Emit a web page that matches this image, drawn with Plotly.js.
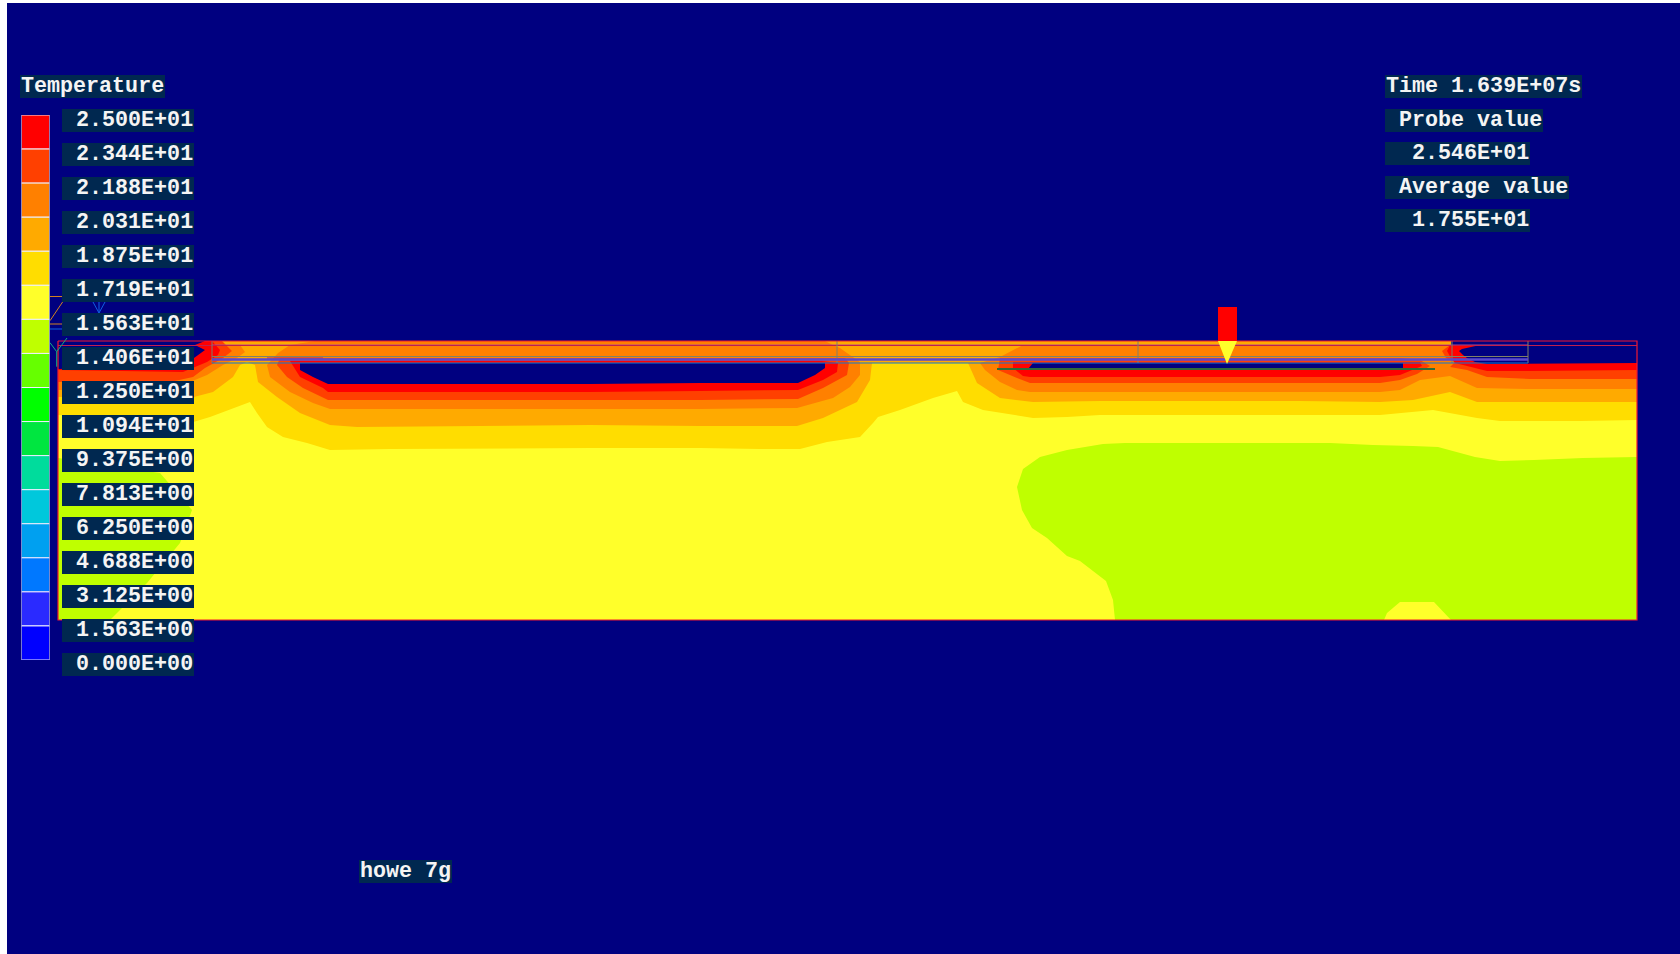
<!DOCTYPE html>
<html>
<head>
<meta charset="utf-8">
<script src="https://cdn.plot.ly/plotly-3.0.1.min.js"></script>
<style>html,body{margin:0;padding:0;background:#fff}#plot{width:1680px;height:954px}</style>
</head>
<body>
<div id="plot"></div>
<script>
// Colour scale, top to bottom
const scaleLabels = ["2.500E+01","2.344E+01","2.188E+01","2.031E+01","1.875E+01","1.719E+01","1.563E+01","1.406E+01","1.250E+01","1.094E+01","9.375E+00","7.813E+00","6.250E+00","4.688E+00","3.125E+00","1.563E+00","0.000E+00"];
const scaleColors = ["#FF0000","#FF4000","#FF8000","#FFAA00","#FFDD00","#FFFF2A","#BFFF00","#66FF00","#00FF00","#00E640","#00DC9C","#00C8DC","#00A0F0","#0078FF","#2A2AFF","#0000FF"];

// Model outline
const domainX = [58,1637,1637,58,58];
const domainY = [341,341,620,620,341];

// Contour regions (null separates pieces)
const limeX = [58,160,192,180,147,110,58,58,null,
  1637,1583,1534,1500,1475,1438,1413,1373,1330,1125,1103,1067,1040,1023,1017,1022,1032,1047,1067,1080,1106,1113,1115,1384,1387,1400,1434,1446,1451,1637,1637];
const limeY = [458,473,510,543,583,620,620,458,null,
  457,458,460,461,457,447,446,445,443,443,444,450,457,469,487,510,528,538,556,561,581,600,620,620,613,602,602,614,620,620,457];

const goldX = [58,190,210,233,250,257,267,283,307,330,390,590,700,760,800,827,860,873,878,900,933,957,963,983,1033,1067,1100,1380,1433,1477,1500,1580,1637,1637,58,58];
const goldY = [415,423,417,408,402,413,427,437,443,450,449,448,448,449,449,442,437,423,417,410,398,391,402,410,418,417,415,415,410,418,421,421,420,341,341,415];

const amberX = [58,150,190,213,233,240,247,255,258,277,300,330,357,590,700,797,823,857,870,872,968,977,1000,1033,1100,1300,1380,1413,1450,1477,1637,1637,58,58];
const amberY = [397,397,398,392,377,365,362,365,382,397,413,425,427,425,426,426,418,402,380,363,363,383,398,402,401,401,402,400,392,402,402,341,341,397];

const orangeX = [58,240,245,237,223,207,190,170,58,58,null,
  315,825,833,840,847,860,860,850,833,797,700,590,330,313,290,270,267,278,290,315,null,
  1023,1010,1000,980,985,1000,1017,1030,1110,1380,1400,1420,1450,1477,1530,1637,1637,1023];
const orangeY = [345,345,352,358,365,375,382,390,390,345,null,
  341,341,345,348,353,362,375,387,398,408,409,409,409,403,392,377,365,353,345,341,null,
  345,352,357,363,370,382,390,392,392,392,390,380,376,388,389,389,345,345];

const redOrangeX = [58,222,232,223,205,193,170,58,58,null,
  280,845,849,847,823,798,700,590,328,303,287,277,280,null,
  1000,998,1017,1030,1110,1380,1400,1417,1430,1420,1400,1000,null,
  1637,1450,1442,1446,1455,1450,1467,1487,1530,1637,1637];
const redOrangeY = [341,341,351,358,368,377,382,382,341,null,
  358,358,363,375,388,399,400,400,400,388,377,365,358,null,
  358,370,378,383,383,383,380,374,366,360,358,358,null,
  345,345,351,358,362,367,370,377,379,379,345];

const redX = [58,212,220,218,207,193,183,58,58,null,
  290,822,838,837,823,798,700,590,328,323,300,290,null,
  1013,1013,1023,1030,1110,1380,1400,1410,1422,1420,1013,null,
  1637,1450,1447,1451,1455,1467,1487,1530,1637,1637];
const redY = [341,341,350,355,362,368,372,370,341,null,
  361,361,363,372,380,390,391,392,392,388,377,361,null,
  362,368,376,377,377,377,375,371,366,362,362,null,
  345,345,351,358,363,366,371,371,370,345];

const navyX = [58,205,195,205,194,170,58,58,null,
  300,825,825,815,798,700,590,328,313,300,300,null,
  1033,1028,1403,1403,1033,null,
  1451,1637,1637,1487,1475,1467,1463,1459,1462,1480,1451,1451];
const navyY = [341,341,345,350,358,366,369,341,null,
  363,363,368,375,383,383,384,384,377,370,363,null,
  363,369,369,363,363,null,
  341,341,363,364,362,358,355,351,349,345,345,341];

// Probe marker
const probeBarX = [1218,1237,1237,1218,1218];
const probeBarY = [307,307,341,341,307];
const probeTipX = [1218,1237,1227,1218];
const probeTipY = [341,341,364,341];

// Wireframe lines of the geometry
const wireRedX = [58,1637,null,267,323];
const wireRedY = [345.5,345.5,null,358,358];
const wireMauveX = [212,1528];
const wireMauveY = [345,345];
const wireOliveX = [212,1528,null,212,212,null,837,837,null,1138,1138,null,1452,1452,null,1528,1528];
const wireOliveY = [356.5,356.5,null,341,363,null,341,363,null,341,363,null,341,363,null,341,363];
const wireLilacX = [212,1528];
const wireLilacY = [359.5,359.5];
const wireBlueX = [212,1528];
const wireBlueY = [363,363];
const wireGreenX = [997,1435];
const wireGreenY = [369,369];

// Axis triads beside the colour bar
const triadOrangeX = [50,62,null,50,62.6,null,50,62];
const triadOrangeY = [296.5,296.5,null,320.7,302,null,324,324];
const triadBlueX = [93,99,105,null,99,99,null,50,62];
const triadBlueY = [302,313,302,null,313,302,null,329,329];
const triadGreenX = [50,56.7,67,null,56.7,56.7];
const triadGreenY = [342.7,351.7,338,null,351.7,366.7];

const boxColor = "#002850";
const textColor = "#F4F4F4";
const fontFace = "Liberation Mono";
const lead = "\u00a0";

function region(x, y, color) {
  return {type:"scatter", mode:"lines", x:x, y:y, fill:"toself", fillcolor:color,
          line:{width:0, color:color}, hoverinfo:"skip", showlegend:false, connectgaps:false};
}
function wire(x, y, color, w) {
  return {type:"scatter", mode:"lines", x:x, y:y, line:{color:color, width:w},
          hoverinfo:"skip", showlegend:false};
}
function label(text, left, centerY, w) {
  const common = {xref:"x", yref:"y", xanchor:"left", yanchor:"middle", width:w, height:23,
                  align:"left", valign:"middle", showarrow:false, borderpad:0, borderwidth:0,
                  font:{family:fontFace, size:21.7, color:textColor, weight:700}};
  return [
    Object.assign({}, common, {text:lead, x:left, y:centerY, bgcolor:boxColor}),
    Object.assign({}, common, {text:text, x:left+1.4, y:centerY})
  ];
}

const traces = [
  region(domainX, domainY, scaleColors[5]),
  region(limeX, limeY, scaleColors[6]),
  region(goldX, goldY, scaleColors[4]),
  region(amberX, amberY, scaleColors[3]),
  region(orangeX, orangeY, scaleColors[2]),
  region(redOrangeX, redOrangeY, scaleColors[1]),
  region(redX, redY, scaleColors[0]),
  region(navyX, navyY, "#000080"),
  wire(wireMauveX, wireMauveY, "#B04A8A", 1),
  wire(wireRedX, wireRedY, "#C02050", 1),
  wire(wireOliveX, wireOliveY, "#808068", 1),
  wire(wireLilacX, wireLilacY, "#5A48D0", 2.5),
  wire(wireBlueX, wireBlueY, "#1078D0", 1.2),
  wire(wireGreenX, wireGreenY, "#2F6B3A", 2),
  wire(domainX, domainY, "#F01830", 1.2),
  region(probeBarX, probeBarY, "#FF0000"),
  region(probeTipX, probeTipY, scaleColors[5]),
  wire(triadOrangeX, triadOrangeY, "#D08020", 1),
  wire(triadBlueX, triadBlueY, "#1060E0", 1),
  wire(triadGreenX, triadGreenY, "#10B080", 1),
  {type:"bar", xaxis:"x2", yaxis:"y2", x:scaleColors.map(()=>0.5), y:scaleColors.map(()=>1),
   base:scaleColors.map((c,i)=>i), width:1,
   marker:{color:scaleColors, line:{color:"#F0F0FF", width:1}}, hoverinfo:"skip", showlegend:false}
];

const annotations = [
  label("Temperature", 20, 86, 145),
  label("Time 1.639E+07s", 1385, 86, 197),
  label(lead+"Probe value", 1385, 120, 158),
  label(lead+lead+"2.546E+01", 1385, 153, 145),
  label(lead+"Average value", 1385, 187, 184),
  label(lead+lead+"1.755E+01", 1385, 220, 145),
  label("howe 7g", 359, 871, 93)
].concat(scaleLabels.map((t,i)=>label(lead+t, 62, 120+34*i, 132))).flat();

const layout = {
  width:1680, height:954, margin:{l:0,r:0,t:0,b:0,pad:0},
  paper_bgcolor:"#FFFFFF", plot_bgcolor:"#000080", showlegend:false, dragmode:false,
  xaxis:{domain:[7/1680,1], range:[7,1680], visible:false, fixedrange:true},
  yaxis:{domain:[0,951/954], range:[954,3], visible:false, fixedrange:true},
  xaxis2:{domain:[21.5/1680,49.5/1680], range:[0,1], visible:false, fixedrange:true, anchor:"y2"},
  yaxis2:{domain:[(954-660)/954,(954-115)/954], range:[16,0], visible:false, fixedrange:true, anchor:"x2"},
  annotations:annotations
};
Plotly.newPlot("plot", traces, layout, {displayModeBar:false, staticPlot:true});
</script>
</body>
</html>
